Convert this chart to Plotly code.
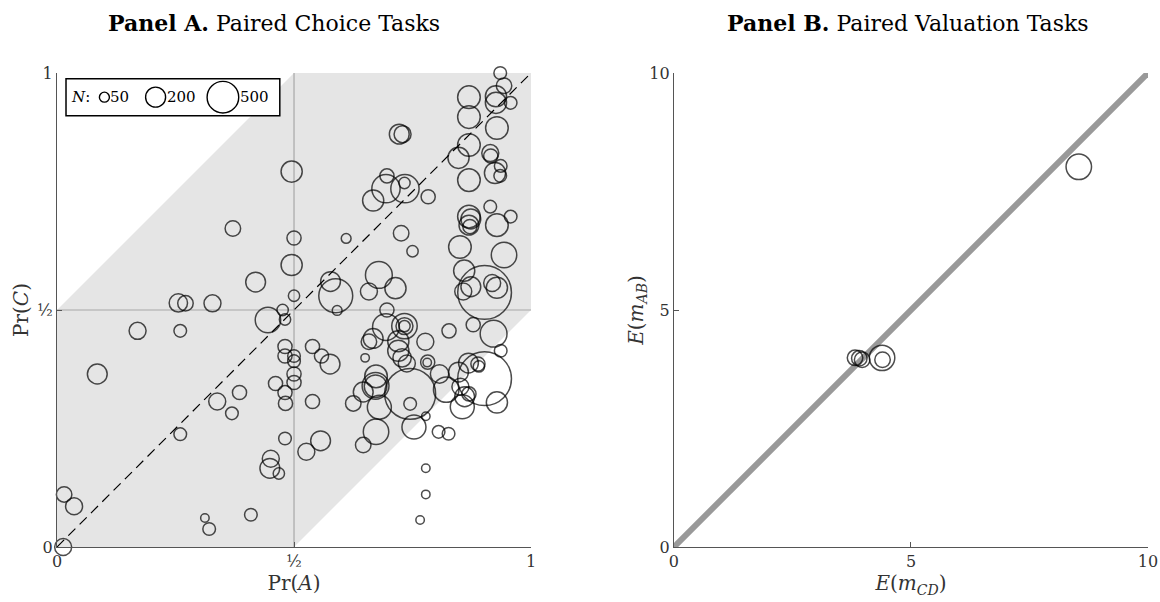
import numpy as np
import plotly.graph_objects as go

# ---------------- data ----------------
# Panel A: paired choice tasks
pa_x = [0.935, 0.943, 0.926, 0.926, 0.957, 0.869, 0.869, 0.928, 0.722, 0.729,
        0.869, 0.914, 0.915, 0.847, 0.936, 0.924, 0.935, 0.869, 0.495, 0.696,
        0.694, 0.734, 0.733, 0.667, 0.783, 0.914, 0.957, 0.869, 0.873, 0.869,
        0.871, 0.928, 0.500, 0.610, 0.726, 0.750, 0.850, 0.943, 0.371, 0.495,
        0.419, 0.500, 0.256, 0.271, 0.328, 0.476, 0.445, 0.481, 0.170, 0.260,
        0.085, 0.481, 0.481, 0.500, 0.500, 0.500, 0.500, 0.461, 0.481, 0.482,
        0.385, 0.338, 0.369, 0.260, 0.481, 0.679, 0.577, 0.588, 0.658, 0.714,
        0.902, 0.873, 0.857, 0.918, 0.928, 0.859, 0.591, 0.696, 0.694, 0.733,
        0.733, 0.733, 0.658, 0.667, 0.720, 0.720, 0.728, 0.738, 0.777, 0.827,
        0.878, 0.921, 0.936, 0.539, 0.558, 0.576, 0.650, 0.782, 0.781, 0.807,
        0.847, 0.868, 0.888, 0.890, 0.902, 0.851, 0.821, 0.869, 0.860, 0.855,
        0.928, 0.673, 0.672, 0.672, 0.646, 0.625, 0.539, 0.745, 0.745, 0.680,
        0.778, 0.753, 0.673, 0.805, 0.826, 0.556, 0.526, 0.646, 0.451, 0.449,
        0.468, 0.015, 0.036, 0.013, 0.312, 0.321, 0.409, 0.778, 0.778, 0.766]
pa_y = [1.000, 0.973, 0.951, 0.937, 0.937, 0.949, 0.907, 0.884, 0.871, 0.871,
        0.848, 0.831, 0.825, 0.821, 0.804, 0.789, 0.783, 0.774, 0.792, 0.783,
        0.756, 0.756, 0.768, 0.731, 0.739, 0.718, 0.697, 0.697, 0.692, 0.679,
        0.676, 0.679, 0.652, 0.651, 0.662, 0.624, 0.633, 0.616, 0.672, 0.595,
        0.559, 0.530, 0.515, 0.514, 0.514, 0.500, 0.479, 0.480, 0.456, 0.456,
        0.365, 0.423, 0.403, 0.403, 0.392, 0.365, 0.347, 0.345, 0.326, 0.303,
        0.326, 0.307, 0.282, 0.238, 0.229, 0.574, 0.560, 0.530, 0.539, 0.546,
        0.537, 0.549, 0.539, 0.557, 0.547, 0.583, 0.499, 0.500, 0.464, 0.466,
        0.466, 0.466, 0.433, 0.440, 0.434, 0.414, 0.399, 0.387, 0.433, 0.456,
        0.469, 0.450, 0.414, 0.423, 0.403, 0.386, 0.399, 0.390, 0.389, 0.365,
        0.369, 0.388, 0.386, 0.381, 0.355, 0.338, 0.332, 0.323, 0.317, 0.296,
        0.305, 0.360, 0.340, 0.339, 0.327, 0.303, 0.307, 0.323, 0.302, 0.295,
        0.276, 0.253, 0.243, 0.243, 0.239, 0.224, 0.201, 0.215, 0.186, 0.166,
        0.155, 0.111, 0.086, 0.000, 0.061, 0.038, 0.068, 0.166, 0.111, 0.057]
pa_n = [40, 60, 112, 112, 40, 128, 128, 128, 98, 72,
        128, 72, 50, 112, 40, 112, 40, 128, 112, 50,
        200, 200, 32, 112, 50, 40, 40, 128, 98, 98,
        50, 128, 50, 24, 60, 32, 128, 162, 60, 112,
        98, 32, 84, 60, 72, 32, 162, 32, 72, 40,
        98, 50, 50, 40, 40, 50, 50, 50, 50, 50,
        50, 72, 40, 40, 40, 180, 98, 288, 72, 112,
        722, 98, 72, 72, 112, 112, 24, 50, 180, 162,
        72, 32, 60, 98, 112, 112, 84, 72, 72, 50,
        50, 180, 40, 50, 50, 98, 18, 50, 18, 84,
        98, 98, 50, 32, 722, 72, 162, 50, 98, 144,
        112, 128, 180, 128, 98, 60, 50, 648, 40, 144,
        18, 144, 162, 40, 40, 98, 72, 60, 72, 98,
        32, 60, 72, 72, 18, 40, 40, 18, 18, 18]

# Panel B: paired valuation tasks
pb_x = [3.82, 3.91, 3.97, 4.39, 4.40, 8.54]
pb_y = [3.99, 3.98, 3.95, 3.99, 3.95, 8.02]
pb_n = [60, 60, 60, 162, 60, 162]

legend_n = [50, 200, 500]
a_ticks = [0, 0.5, 1]
a_ticktext = ["0", "½", "1"]
b_ticks = [0, 5, 10]
b_ticktext = ["0", "5", "10"]

# ---------------- figure ----------------
FONT = "DejaVu Serif"
AXC = "#555555"
TXT = "#333333"

fig = go.Figure()

marker_common = dict(symbol="circle-open", color="black", sizemode="area",
                     sizeref=0.5, line=dict(width=1.5))

fig.add_trace(go.Scatter(x=pa_x, y=pa_y, mode="markers", xaxis="x", yaxis="y",
                         marker=dict(size=pa_n, **marker_common),
                         cliponaxis=False, showlegend=False, hoverinfo="x+y"))
fig.add_trace(go.Scatter(x=pb_x, y=pb_y, mode="markers", xaxis="x2", yaxis="y2",
                         marker=dict(size=pb_n, **marker_common),
                         cliponaxis=False, showlegend=False, hoverinfo="x+y"))

shapes = []
# shaded band |y - x| <= 1/2
shapes.append(dict(type="path", xref="x", yref="y",
                   path="M 0 0 L 0.5 0 L 1 0.5 L 1 1 L 0.5 1 L 0 0.5 Z",
                   fillcolor="#e5e5e5", line=dict(width=0), layer="below"))
# half lines
shapes.append(dict(type="line", xref="x", yref="y", x0=0.5, x1=0.5, y0=0, y1=1,
                   line=dict(color="#a8a8a8", width=1.2), layer="below"))
shapes.append(dict(type="line", xref="x", yref="y", x0=0, x1=1, y0=0.5, y1=0.5,
                   line=dict(color="#a8a8a8", width=1.2), layer="below"))
# dashed diagonal
shapes.append(dict(type="line", xref="x", yref="y", x0=0, y0=0, x1=1, y1=1,
                   line=dict(color="black", width=1.2, dash="10px,6px"), layer="below"))
# Panel B identity line
shapes.append(dict(type="line", xref="x2", yref="y2", x0=0, y0=0, x1=10, y1=10,
                   line=dict(color="#999999", width=6), layer="below"))

# size key box (panel A)
shapes.append(dict(type="rect", xref="x", yref="y", x0=0.019, x1=0.470,
                   y0=0.910, y1=0.988, fillcolor="white",
                   line=dict(color="black", width=1.5), layer="above"))
key_x = [0.100, 0.208, 0.350]
for kx, kn in zip(key_x, legend_n):
    d = np.sqrt(2 * kn)
    shapes.append(dict(type="circle", xref="x", yref="y",
                       xsizemode="pixel", ysizemode="pixel",
                       xanchor=kx, yanchor=0.949,
                       x0=-d / 2, x1=d / 2, y0=-d / 2, y1=d / 2,
                       line=dict(color="black", width=1.4), layer="above"))

annotations = []
annotations.append(dict(xref="x", yref="y", x=0.026, y=0.949, xanchor="left",
                        yanchor="middle", showarrow=False, text="<i>N</i>:",
                        font=dict(family=FONT, size=15, color="black")))
for kx, kn in zip(key_x, legend_n):
    d = np.sqrt(2 * kn)
    annotations.append(dict(xref="x", yref="y", x=kx, y=0.949, xanchor="left",
                            yanchor="middle", xshift=d / 2 - 1, showarrow=False,
                            text=str(kn),
                            font=dict(family=FONT, size=15, color="black")))

annotations.append(dict(xref="paper", yref="paper", x=0.1989, y=1.0,
                        yshift=50, xanchor="center", yanchor="middle",
                        showarrow=False,
                        text="<b>Panel A.</b> Paired Choice Tasks",
                        font=dict(family=FONT, size=22, color="black")))
annotations.append(dict(xref="paper", yref="paper", x=0.780, y=1.0,
                        yshift=50, xanchor="center", yanchor="middle",
                        showarrow=False,
                        text="<b>Panel B.</b> Paired Valuation Tasks",
                        font=dict(family=FONT, size=22, color="black")))

axis_common = dict(showgrid=False, zeroline=False, showline=True,
                   linecolor=AXC, linewidth=1.3, ticks="inside", ticklen=5,
                   tickcolor=AXC, tickwidth=1.2, automargin=False,
                   tickfont=dict(family=FONT, size=16, color=TXT),
                   title_font=dict(family=FONT, size=20, color=TXT))

fig.update_layout(
    width=1160, height=602,
    margin=dict(l=57, r=12, t=73, b=55),
    plot_bgcolor="white", paper_bgcolor="white",
    shapes=shapes, annotations=annotations,
    xaxis=dict(domain=[0, 0.4345], range=[0, 1], tickvals=a_ticks,
               ticktext=a_ticktext, anchor="y",
               title=dict(text="Pr(<i>A</i>)", standoff=0), **axis_common),
    yaxis=dict(domain=[0, 1], range=[0, 1], tickvals=a_ticks,
               ticktext=a_ticktext, anchor="x",
               title=dict(text="Pr(<i>C</i>)", standoff=3), **axis_common),
    xaxis2=dict(domain=[0.5655, 1], range=[0, 10], tickvals=b_ticks,
                ticktext=b_ticktext, anchor="y2",
                title=dict(text="<i>E</i>(<i>m</i><sub><i>CD</i></sub>)", standoff=0),
                **axis_common),
    yaxis2=dict(domain=[0, 1], range=[0, 10], tickvals=b_ticks,
                ticktext=b_ticktext, anchor="x2",
                title=dict(text="<i>E</i>(<i>m</i><sub><i>AB</i></sub>)", standoff=0),
                **axis_common),
)

fig.write_html("out.html")
